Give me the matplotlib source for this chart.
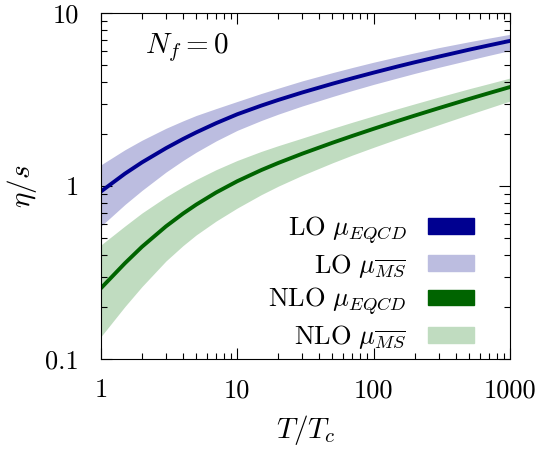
import matplotlib
matplotlib.use("Agg")
import matplotlib.pyplot as plt
from matplotlib.patches import Patch
from matplotlib.ticker import FixedLocator, FixedFormatter, LogLocator, NullFormatter

plt.rcParams['font.family'] = 'serif'
plt.rcParams['font.serif'] = ['cmr10']
plt.rcParams['mathtext.fontset'] = 'cm'
plt.rcParams['axes.formatter.use_mathtext'] = True

# T/Tc sample points
T = [1, 1.5, 2, 3, 4, 5, 7, 10, 15, 20, 30, 50, 70, 100, 150, 200, 300, 500, 700, 1000]

# LO: line (mu_EQCD) and band (mu_MSbar)
lo_eqcd = [0.931, 1.18, 1.371, 1.656, 1.871, 2.043, 2.31, 2.60, 2.917, 3.146,
           3.475, 3.905, 4.20, 4.524, 4.91, 5.19, 5.595, 6.135, 6.50, 6.90]
lo_ms_hi = [1.327, 1.622, 1.841, 2.158, 2.382, 2.559, 2.805, 3.083, 3.428, 3.679,
            4.055, 4.524, 4.846, 5.196, 5.595, 5.886, 6.307, 6.82, 7.16, 7.53]
lo_ms_lo = [0.587, 0.783, 0.944, 1.205, 1.406, 1.570, 1.824, 2.099, 2.393, 2.604,
            2.904, 3.293, 3.568, 3.869, 4.215, 4.477, 4.852, 5.342, 5.689, 6.067]

# NLO
nlo_eqcd = [0.257, 0.3584, 0.4459, 0.5852, 0.6934, 0.7813, 0.9182, 1.0666, 1.237, 1.36,
            1.539, 1.780, 1.950, 2.142, 2.376, 2.553, 2.818, 3.183, 3.441, 3.733]
nlo_ms_hi = [0.457, 0.588, 0.699, 0.866, 0.991, 1.091, 1.244, 1.406, 1.586, 1.712,
             1.894, 2.155, 2.339, 2.545, 2.797, 2.985, 3.266, 3.647, 3.906, 4.207]
nlo_ms_lo = [0.135, 0.2015, 0.2627, 0.3693, 0.4529, 0.5222, 0.6279, 0.7464, 0.8919, 0.9989,
             1.154, 1.363, 1.511, 1.674, 1.874, 2.027, 2.259, 2.587, 2.823, 3.097]

labels = [r'$\mathrm{LO}\ \mu_{EQCD}$', r'$\mathrm{LO}\ \mu_{\overline{MS}}$',
          r'$\mathrm{NLO}\ \mu_{EQCD}$', r'$\mathrm{NLO}\ \mu_{\overline{MS}}$']

xticks = [1, 10, 100, 1000]
xticklabels = ['1', '10', '100', '1000']
yticks = [0.1, 1, 10]
yticklabels = ['0.1', '1', '10']

blue = '#000090'
blue_band = '#bcbde0'
green = '#006400'
green_band = '#c0dcc0'

fs = 19

fig = plt.figure(figsize=(5.4, 4.5), dpi=100)
ax = fig.add_axes([0.187, 0.202, 0.757, 0.769])

ax.fill_between(T, lo_ms_lo, lo_ms_hi, color=blue_band, lw=0)
ax.fill_between(T, nlo_ms_lo, nlo_ms_hi, color=green_band, lw=0)
ax.plot(T, lo_eqcd, color=blue, lw=2.8)
ax.plot(T, nlo_eqcd, color=green, lw=2.8)

ax.set_xscale('log')
ax.set_yscale('log')
ax.set_xlim(1, 1000)
ax.set_ylim(0.1, 10)

ax.xaxis.set_major_locator(FixedLocator(xticks))
ax.xaxis.set_major_formatter(FixedFormatter(xticklabels))
ax.yaxis.set_major_locator(FixedLocator(yticks))
ax.yaxis.set_major_formatter(FixedFormatter(yticklabels))
for a in (ax.xaxis, ax.yaxis):
    a.set_minor_locator(LogLocator(base=10, subs=range(2, 10)))
    a.set_minor_formatter(NullFormatter())

ax.tick_params(which='both', direction='in', top=True, right=True, labelsize=fs, width=0.8)
ax.tick_params(which='major', length=8)
ax.tick_params(which='minor', length=4)
ax.tick_params(axis='x', which='major', pad=14)
ax.tick_params(axis='y', which='major', pad=16)

ax.set_xlabel(r'$T/T_c$', fontsize=fs + 2, labelpad=8)
ax.set_ylabel(r'$\eta/s$', fontsize=fs + 2, labelpad=4)

ax.text(0.21, 0.90, r'$N_f = 0$', transform=ax.transAxes, fontsize=fs + 2, ha='center', va='center')

handles = [Patch(color=blue), Patch(color=blue_band), Patch(color=green), Patch(color=green_band)]
ax.legend(handles, labels, loc='lower right', bbox_to_anchor=(0.97, -0.045), frameon=False,
          markerfirst=False, fontsize=fs, handlelength=1.75, handleheight=0.55,
          labelspacing=0.22, handletextpad=0.8)

fig.savefig('out.png', dpi=100)
